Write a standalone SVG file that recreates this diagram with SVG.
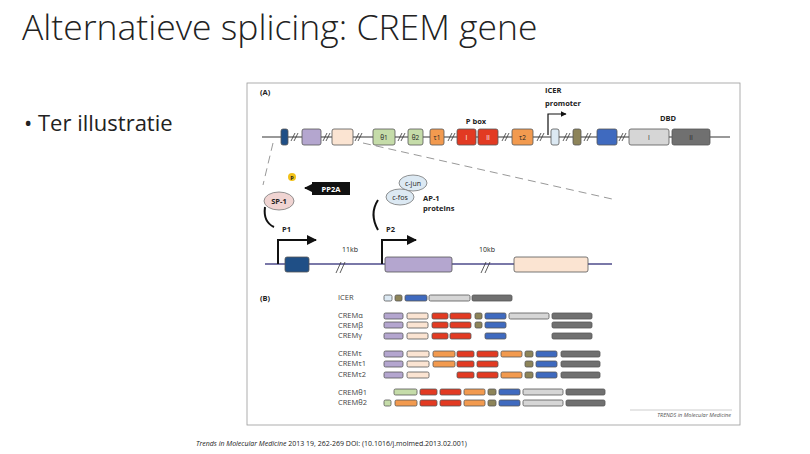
<svg xmlns="http://www.w3.org/2000/svg" width="810" height="454" viewBox="0 0 810 454">
<style>
text{font-family:"Open Sans","Liberation Sans",sans-serif;fill:#222}
.b{stroke:#555;stroke-width:0.8}
.s{font-size:7.5px;font-weight:bold}
.l{font-size:7.5px;fill:#444}
.ln{stroke:#7a78a8;stroke-width:2;fill:none}
.sl{stroke:#333;stroke-width:0.8}
.pu{fill:#b4a6cf}.pe{fill:#fbe4d2}.rd{fill:#e23a22}.or{fill:#f29a4f}.ol{fill:#8d8459}.bl{fill:#3f6abf}.lg{fill:#d6d6d6}.dg{fill:#707070}.gr{fill:#c5dca9}.lb{fill:#dce9f3}.db{fill:#1f4f86}
</style>
<defs><marker id="ah" viewBox="0 0 10 10" refX="9" refY="5" markerWidth="5" markerHeight="5" orient="auto"><path d="M0,0L10,5L0,10z" fill="#111"/></marker></defs>
<rect width="810" height="454" fill="#fff"/>
<text x="22" y="40" font-size="35.5" style="font-weight:300">Alternatieve splicing: CREM gene</text>
<text x="24" y="131" font-size="22">• Ter illustratie</text>
<text x="196" y="446" font-size="7"><tspan font-style="italic">Trends in Molecular Medicine</tspan> 2013 19, 262-269 DOI: (10.1016/j.molmed.2013.02.001)</text>
<rect x="247" y="83" width="493" height="342" fill="#fff" stroke="#999" stroke-width="0.8"/>
<text x="260" y="95" class="s">(A)</text>
<text x="260" y="301" class="s">(B)</text>
<g id="connectors" fill="none">
<line x1="262" y1="137" x2="730" y2="137" stroke="#999" stroke-width="2"/>
<line x1="273" y1="143" x2="263" y2="185" stroke="#999" stroke-dasharray="8,5"/>
<line x1="363" y1="143" x2="612" y2="199" stroke="#999" stroke-dasharray="8,5"/>
<polyline points="548,135 548,114 566,114" stroke="#111" stroke-width="1.2" marker-end="url(#ah)"/>
<line x1="265" y1="264" x2="612" y2="264" class="ln"/>
<polyline points="278,264 278,240 316,240" stroke="#111" stroke-width="2" marker-end="url(#ah)"/>
<polyline points="382,264 382,240 416,240" stroke="#111" stroke-width="2" marker-end="url(#ah)"/>
<path d="M265,207 Q263,222 274,227" stroke="#111" stroke-width="2"/>
<path d="M378,200 Q369,214 378,230" stroke="#111" stroke-width="2"/>
<line x1="312" y1="188" x2="305" y2="188" stroke="#111" stroke-width="2" marker-end="url(#ah)"/>
<g class="sl"><line x1="291" y1="141" x2="295" y2="133"/><line x1="294" y1="141" x2="298" y2="133"/>
<line x1="323" y1="141" x2="327" y2="133"/><line x1="326" y1="141" x2="330" y2="133"/>
<line x1="355" y1="141" x2="359" y2="133"/><line x1="358" y1="141" x2="362" y2="133"/>
<line x1="398" y1="141" x2="402" y2="133"/><line x1="401" y1="141" x2="405" y2="133"/>
<line x1="448" y1="141" x2="452" y2="133"/><line x1="451" y1="141" x2="455" y2="133"/>
<line x1="502" y1="141" x2="506" y2="133"/><line x1="505" y1="141" x2="509" y2="133"/>
<line x1="537" y1="141" x2="541" y2="133"/><line x1="540" y1="141" x2="544" y2="133"/>
<line x1="563" y1="141" x2="567" y2="133"/><line x1="566" y1="141" x2="570" y2="133"/>
<line x1="584" y1="141" x2="588" y2="133"/><line x1="587" y1="141" x2="591" y2="133"/>
<line x1="619" y1="141" x2="623" y2="133"/><line x1="622" y1="141" x2="626" y2="133"/>
<line x1="336" y1="273" x2="341" y2="262"/><line x1="340" y1="273" x2="345" y2="262"/>
<line x1="481" y1="273" x2="486" y2="262"/><line x1="485" y1="273" x2="490" y2="262"/></g>
</g>
<g id="gene" class="b">
<rect x="281" y="129" width="7" height="16" rx="2" class="db"/>
<rect x="302" y="129" width="19" height="16" rx="2" class="pu"/>
<rect x="332" y="129" width="21" height="16" rx="2" class="pe"/>
<rect x="373" y="129" width="22" height="16" rx="2" class="gr"/>
<rect x="408" y="129" width="15" height="16" rx="2" class="gr"/>
<rect x="430" y="129" width="14" height="16" rx="2" class="or"/>
<rect x="457" y="129" width="19" height="16" rx="2" class="rd"/>
<rect x="478" y="129" width="20" height="16" rx="2" class="rd"/>
<rect x="512" y="129" width="21" height="16" rx="2" class="or"/>
<rect x="551" y="129" width="8" height="16" rx="2" class="lb"/>
<rect x="573" y="129" width="8" height="16" rx="2" class="ol"/>
<rect x="597" y="129" width="20" height="16" rx="2" class="bl"/>
<rect x="629" y="129" width="40" height="16" rx="2" class="lg"/>
<rect x="672" y="129" width="38" height="16" rx="2" class="dg"/>
</g>
<g id="gene-labels" font-size="6.5">
<text x="384" y="139.5" text-anchor="middle">θ1</text><text x="415.5" y="139.5" text-anchor="middle">θ2</text>
<text x="437" y="139.5" text-anchor="middle">τ1</text><text x="466.5" y="139.5" text-anchor="middle" style="fill:#fff">I</text>
<text x="488" y="139.5" text-anchor="middle" style="fill:#fff">II</text><text x="522.5" y="139.5" text-anchor="middle">τ2</text>
<text x="649" y="139.5" text-anchor="middle">I</text><text x="691" y="139.5" text-anchor="middle">II</text>
<text x="476" y="124" text-anchor="middle" class="s">P box</text>
<text x="668" y="121" text-anchor="middle" class="s">DBD</text>
<text x="545" y="93" class="s">ICER</text><text x="545" y="106" class="s">promoter</text>
</g>
<g id="regulators">
<circle cx="292" cy="177" r="4" fill="#f2c21a"/><text x="292" y="179.5" text-anchor="middle" font-size="5.5" font-weight="bold">P</text>
<ellipse cx="279" cy="201" rx="15" ry="9" fill="#f0d4d2" stroke="#777" stroke-width="0.8"/><text x="279" y="203.5" text-anchor="middle" class="s">SP-1</text>
<rect x="312" y="182" width="38" height="13" fill="#111"/><text x="331" y="191.5" text-anchor="middle" class="s" style="fill:#fff">PP2A</text>
<ellipse cx="413" cy="183" rx="14" ry="8" fill="#dce9f3" stroke="#777" stroke-width="0.8"/><text x="413" y="185.5" text-anchor="middle" font-size="7">c-jun</text>
<ellipse cx="400" cy="197" rx="14" ry="8" fill="#dce9f3" stroke="#777" stroke-width="0.8"/><text x="400" y="199.5" text-anchor="middle" font-size="7">c-fos</text>
<text x="423" y="201" class="s">AP-1</text><text x="423" y="211" class="s">proteins</text>
<text x="282" y="232" class="s">P1</text><text x="386" y="232" class="s">P2</text>
<text x="342" y="252" font-size="7">11kb</text><text x="479" y="252" font-size="7">10kb</text>
</g>
<g id="promoter-region" class="b">
<rect x="285" y="257" width="24" height="15" rx="2" class="db"/>
<rect x="385" y="257" width="67" height="15" rx="2" class="pu"/>
<rect x="514" y="257" width="74" height="15" rx="2" class="pe"/>
</g>
<g id="isoforms" class="b">
<g id="ICER"><rect x="384" y="295" width="8" height="6" rx="1.5" class="lb"/><rect x="395" y="295" width="7" height="6" rx="1.5" class="ol"/><rect x="405" y="295" width="22" height="6" rx="1.5" class="bl"/><rect x="429" y="295" width="41" height="6" rx="1.5" class="lg"/><rect x="472" y="295" width="40" height="6" rx="1.5" class="dg"/></g>
<g id="CREMa"><rect x="384" y="313" width="19" height="6" rx="1.5" class="pu"/><rect x="407" y="313" width="21" height="6" rx="1.5" class="pe"/><rect x="432" y="313" width="16" height="6" rx="1.5" class="rd"/><rect x="450" y="313" width="21" height="6" rx="1.5" class="rd"/><rect x="475" y="313" width="7" height="6" rx="1.5" class="ol"/><rect x="485" y="313" width="21" height="6" rx="1.5" class="bl"/><rect x="509" y="313" width="40" height="6" rx="1.5" class="lg"/><rect x="552" y="313" width="40" height="6" rx="1.5" class="dg"/></g>
<g id="CREMb"><rect x="384" y="322" width="19" height="6" rx="1.5" class="pu"/><rect x="407" y="322" width="21" height="6" rx="1.5" class="pe"/><rect x="432" y="322" width="16" height="6" rx="1.5" class="rd"/><rect x="450" y="322" width="21" height="6" rx="1.5" class="rd"/><rect x="475" y="322" width="7" height="6" rx="1.5" class="ol"/><rect x="485" y="322" width="21" height="6" rx="1.5" class="bl"/><rect x="552" y="322" width="40" height="6" rx="1.5" class="dg"/></g>
<g id="CREMg"><rect x="384" y="333" width="19" height="6" rx="1.5" class="pu"/><rect x="407" y="333" width="21" height="6" rx="1.5" class="pe"/><rect x="432" y="333" width="16" height="6" rx="1.5" class="rd"/><rect x="450" y="333" width="21" height="6" rx="1.5" class="rd"/><rect x="485" y="333" width="21" height="6" rx="1.5" class="bl"/><rect x="552" y="333" width="40" height="6" rx="1.5" class="dg"/></g>
<g id="CREMt"><rect x="384" y="351" width="19" height="6" rx="1.5" class="pu"/><rect x="407" y="351" width="22" height="6" rx="1.5" class="pe"/><rect x="433" y="351" width="22" height="6" rx="1.5" class="or"/><rect x="457" y="351" width="17" height="6" rx="1.5" class="rd"/><rect x="477" y="351" width="21" height="6" rx="1.5" class="rd"/><rect x="501" y="351" width="21" height="6" rx="1.5" class="or"/><rect x="525" y="351" width="8" height="6" rx="1.5" class="ol"/><rect x="536" y="351" width="21" height="6" rx="1.5" class="bl"/><rect x="561" y="351" width="39" height="6" rx="1.5" class="dg"/></g>
<g id="CREMt1"><rect x="384" y="361" width="19" height="6" rx="1.5" class="pu"/><rect x="407" y="361" width="22" height="6" rx="1.5" class="pe"/><rect x="433" y="361" width="22" height="6" rx="1.5" class="or"/><rect x="457" y="361" width="17" height="6" rx="1.5" class="rd"/><rect x="477" y="361" width="21" height="6" rx="1.5" class="rd"/><rect x="525" y="361" width="8" height="6" rx="1.5" class="ol"/><rect x="536" y="361" width="21" height="6" rx="1.5" class="bl"/><rect x="561" y="361" width="39" height="6" rx="1.5" class="dg"/></g>
<g id="CREMt2"><rect x="384" y="372" width="19" height="6" rx="1.5" class="pu"/><rect x="407" y="372" width="22" height="6" rx="1.5" class="pe"/><rect x="457" y="372" width="17" height="6" rx="1.5" class="rd"/><rect x="477" y="372" width="21" height="6" rx="1.5" class="rd"/><rect x="501" y="372" width="21" height="6" rx="1.5" class="or"/><rect x="525" y="372" width="8" height="6" rx="1.5" class="ol"/><rect x="536" y="372" width="21" height="6" rx="1.5" class="bl"/><rect x="561" y="372" width="39" height="6" rx="1.5" class="dg"/></g>
<g id="CREMth1"><rect x="394" y="389" width="23" height="6" rx="1.5" class="gr"/><rect x="420" y="389" width="17" height="6" rx="1.5" class="rd"/><rect x="440" y="389" width="21" height="6" rx="1.5" class="rd"/><rect x="464" y="389" width="21" height="6" rx="1.5" class="or"/><rect x="488" y="389" width="8" height="6" rx="1.5" class="ol"/><rect x="499" y="389" width="21" height="6" rx="1.5" class="bl"/><rect x="523" y="389" width="40" height="6" rx="1.5" class="lg"/><rect x="566" y="389" width="39" height="6" rx="1.5" class="dg"/></g>
<g id="CREMth2"><rect x="384" y="400" width="7" height="6" rx="1.5" class="gr"/><rect x="395" y="400" width="22" height="6" rx="1.5" class="or"/><rect x="420" y="400" width="17" height="6" rx="1.5" class="rd"/><rect x="440" y="400" width="21" height="6" rx="1.5" class="rd"/><rect x="464" y="400" width="21" height="6" rx="1.5" class="or"/><rect x="488" y="400" width="8" height="6" rx="1.5" class="ol"/><rect x="499" y="400" width="21" height="6" rx="1.5" class="bl"/><rect x="523" y="400" width="40" height="6" rx="1.5" class="lg"/><rect x="566" y="400" width="39" height="6" rx="1.5" class="dg"/></g>
</g>
<g id="isoform-labels">
<text x="338" y="300" class="l">ICER</text>
<text x="338" y="318" class="l">CREMα</text><text x="338" y="328" class="l">CREMβ</text><text x="338" y="338" class="l">CREMγ</text>
<text x="338" y="356" class="l">CREMτ</text><text x="338" y="366" class="l">CREMτ1</text><text x="338" y="377" class="l">CREMτ2</text>
<text x="338" y="395" class="l">CREMθ1</text><text x="338" y="405" class="l">CREMθ2</text>
</g>
<line x1="630" y1="410" x2="732" y2="410" stroke="#999" stroke-width="0.5"/>
<text x="731" y="417" text-anchor="end" font-size="5.5" font-style="italic" style="fill:#555">TRENDS in Molecular Medicine</text>
</svg>
